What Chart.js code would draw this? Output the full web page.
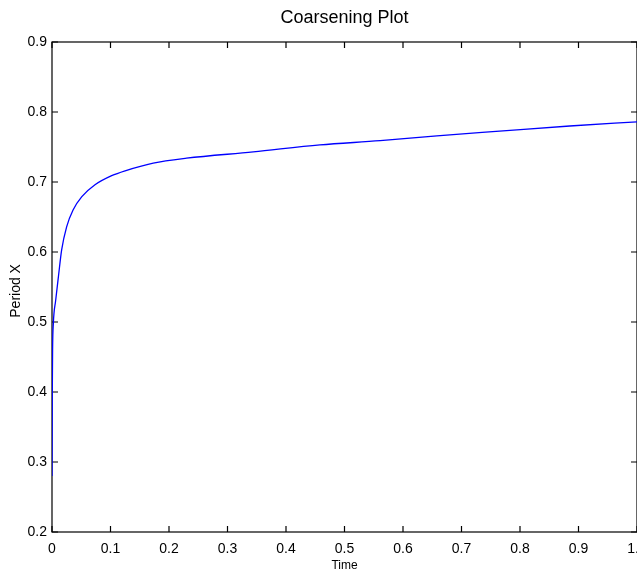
<!DOCTYPE html>
<html>
<head>
<meta charset="utf-8">
<title>Coarsening Plot</title>
<script src="https://cdn.jsdelivr.net/npm/chart.js@4/dist/chart.umd.min.js"></script>
<style>
  html, body { margin: 0; padding: 0; background: #fff; }
  #wrap { width: 637px; height: 573px; position: relative; }
</style>
</head>
<body>
<div id="wrap"><canvas id="coarsening"></canvas></div>
<script>
// values
const times = [0, 0.0005, 0.001, 0.0023, 0.0063, 0.011, 0.0165, 0.025, 0.036, 0.051, 0.0735,
  0.102, 0.125, 0.173, 0.23, 0.344, 0.458, 0.561, 0.658, 0.771, 0.885, 1.0];
const periods = [0.28, 0.40, 0.46, 0.498, 0.531, 0.565, 0.603, 0.636, 0.66, 0.679, 0.696,
  0.709, 0.716, 0.727, 0.734, 0.743, 0.753, 0.759, 0.766, 0.773, 0.78, 0.786];
const xTicks = [0, 0.1, 0.2, 0.3, 0.4, 0.5, 0.6, 0.7, 0.8, 0.9, 1];
const yTicks = [0.2, 0.3, 0.4, 0.5, 0.6, 0.7, 0.8, 0.9];

const FONT = "'Liberation Sans', Arial, Helvetica, sans-serif";
const TICK_LEN = 6;

// matlab style box with inward ticks on all four sides
const boxPlugin = {
  id: "box",
  beforeDatasetsDraw(chart) {
    const { ctx, chartArea: a, scales } = chart;
    ctx.save();
    ctx.strokeStyle = "#000";
    ctx.lineWidth = 1.2;
    ctx.strokeRect(a.left, a.top, a.right - a.left, a.bottom - a.top);
    ctx.beginPath();
    xTicks.forEach((v) => {
      const px = scales.x.getPixelForValue(v);
      ctx.moveTo(px, a.bottom);
      ctx.lineTo(px, a.bottom - TICK_LEN);
      ctx.moveTo(px, a.top);
      ctx.lineTo(px, a.top + TICK_LEN);
    });
    yTicks.forEach((v) => {
      const py = scales.y.getPixelForValue(v);
      ctx.moveTo(a.left, py);
      ctx.lineTo(a.left + TICK_LEN, py);
      ctx.moveTo(a.right, py);
      ctx.lineTo(a.right - TICK_LEN, py);
    });
    ctx.stroke();
    ctx.restore();
  },
};

const points = times.map((t, i) => ({ x: t, y: periods[i] }));

new Chart(document.getElementById("coarsening"), {
  type: "line",
  data: {
    datasets: [
      {
        label: "Period X",
        data: points,
        borderColor: "#0000ff",
        borderWidth: 1.3,
        pointRadius: 0,
        fill: false,
        cubicInterpolationMode: "monotone",
      },
    ],
  },
  options: {
    responsive: true,
    maintainAspectRatio: false,
    animation: false,
    layout: { padding: 0 },
    plugins: {
      legend: { display: false },
      tooltip: { enabled: false },
      title: {
        display: true,
        text: "Coarsening Plot",
        fullSize: false,
        color: "#000",
        font: { family: FONT, size: 18, weight: "normal" },
        padding: { top: 7, bottom: 13.4 },
      },
    },
    scales: {
      x: {
        type: "linear",
        min: 0,
        max: 1,
        grid: { display: false, drawTicks: false },
        border: { display: false },
        ticks: {
          stepSize: 0.1,
          padding: 9,
          maxRotation: 0,
          color: "#000",
          font: { family: FONT, size: 14 },
        },
        title: {
          display: true,
          text: "Time",
          color: "#000",
          font: { family: FONT, size: 12 },
          padding: { top: 0, bottom: 0 },
        },
        afterFit(scale) {
          scale.height = 41;
          scale.paddingRight = 0;
        },
      },
      y: {
        type: "linear",
        min: 0.2,
        max: 0.9,
        grid: { display: false, drawTicks: false },
        border: { display: false },
        ticks: {
          stepSize: 0.1,
          padding: 5,
          color: "#000",
          font: { family: FONT, size: 14 },
        },
        title: {
          display: true,
          // trailing spaces nudge the label a little below the axis centre, as in the original
          text: "Period X  ",
          color: "#000",
          font: { family: FONT, size: 14 },
          padding: { top: 8, bottom: 0 },
        },
        afterFit(scale) {
          scale.width = 52;
        },
      },
    },
  },
  plugins: [boxPlugin],
});
</script>
</body>
</html>
